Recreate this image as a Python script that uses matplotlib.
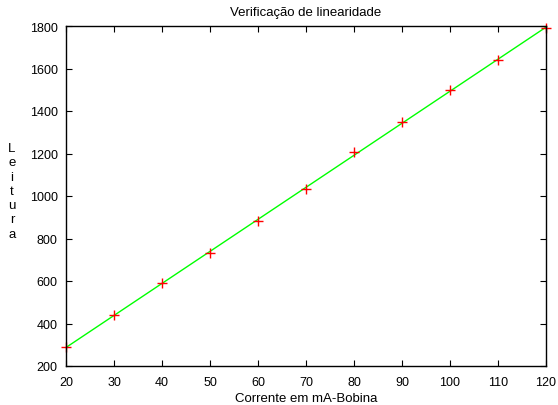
import numpy as np
import matplotlib
matplotlib.use('Agg')
import matplotlib.pyplot as plt

plt.rcParams['font.family'] = ['Liberation Sans', 'DejaVu Sans']

# dados
corrente = [20, 30, 40, 50, 60, 70, 80, 90, 100, 110, 120]
leitura = [290, 440, 590, 732, 882, 1033, 1205, 1348, 1499, 1640, 1790]

# ajuste linear
coef = np.polyfit(corrente, leitura, 1)
xfit = np.array([corrente[0], corrente[-1]])
yfit = np.polyval(coef, xfit)

fig = plt.figure(figsize=(5.58, 4.06), dpi=100)
ax = fig.add_axes([66/558, 1-367/406, 480/558, 340/406])

ax.plot(xfit, yfit, color='#00ff00', lw=1)
ax.plot(corrente, leitura, '+', color='red', ms=6.5, mew=1, clip_on=False)

ax.set_xlim(20, 120)
ax.set_ylim(200, 1800)
ax.set_xticks(range(20, 121, 10))
ax.set_yticks(range(200, 1801, 200))
ax.tick_params(direction='in', top=True, right=True, length=4, labelsize=9)
ax.tick_params(axis='x', pad=7)
ax.tick_params(axis='y', pad=6)
for s in ax.spines.values():
    s.set_linewidth(1)

ax.set_title('Verificação de linearidade', fontsize=9.5, pad=8)
ax.set_xlabel('Corrente em mA-Bobina', fontsize=9.5, labelpad=3)
fig.text(12/558, 1-192/406, 'L\ne\ni\nt\nu\nr\na', fontsize=9.5, ha='center', va='center', linespacing=1.25)

fig.savefig('out.png', dpi=100)
